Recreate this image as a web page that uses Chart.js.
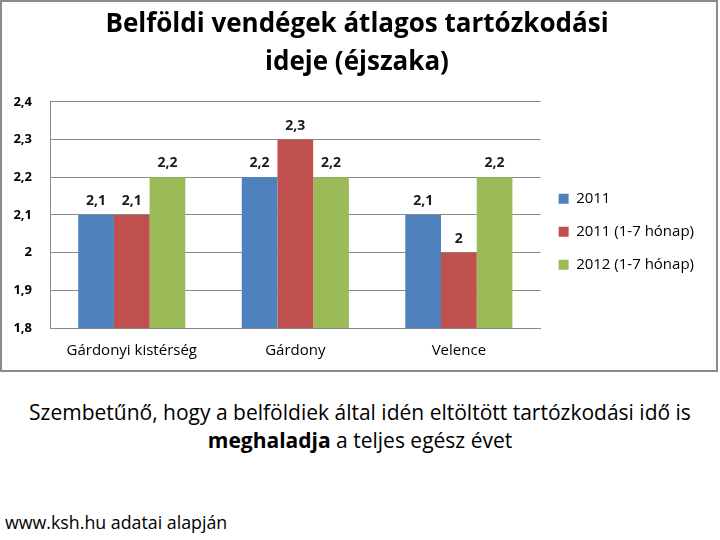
<!DOCTYPE html>
<html lang="hu">
<head>
<meta charset="utf-8">
<title>Belföldi vendégek átlagos tartózkodási ideje</title>
<script src="https://cdn.jsdelivr.net/npm/chart.js@4.4.1/dist/chart.umd.min.js"></script>
<style>
    html, body { margin: 0; padding: 0; background: #fff; }
    body { width: 720px; height: 540px; position: relative; overflow: hidden; font-family: 'Open Sans', sans-serif; color: #000; }
    #chart-box {
        position: absolute; left: 0; top: 0; width: 718px; height: 372px;
        box-sizing: border-box; border: 2px solid #8c8c8c; background: #fff;
    }
    #chart-box canvas { display: block; }
    #caption {
        position: absolute; left: 0; top: 398px; width: 720px;
        text-align: center; font-size: 21px; line-height: 28px;
    }
    #source {
        position: absolute; left: 5px; top: 509px; font-size: 17.8px; line-height: 26px;
    }
</style>
</head>
<body>
<div id="chart-box"><canvas id="stay-chart" width="714" height="368"></canvas></div>
<div id="caption">Szembetűnő, hogy a belföldiek által idén eltöltött tartózkodási idő is<br><b>meghaladja</b> a teljes egész évet</div>
<div id="source">www.ksh.hu adatai alapján</div>

<script>
// Chart data (nights)
const categories = ['Gárdonyi kistérség', 'Gárdony', 'Velence'];
const seriesNames = ['2011', '2011 (1-7 hónap)', '2012 (1-7 hónap)'];
const values2011 = [2.1, 2.2, 2.1];
const values2011Partial = [2.1, 2.3, 2.0];
const values2012Partial = [2.2, 2.2, 2.2];
const yTicks = [1.8, 1.9, 2.0, 2.1, 2.2, 2.3, 2.4];

const COLORS = ['#4F81BD', '#C0504D', '#9BBB59'];
const FONT = "'Open Sans', sans-serif";

const fmt = v => String(Number(v.toFixed(1))).replace('.', ',');

// values above each bar
const barLabels = {
    id: 'barLabels',
    afterDatasetsDraw(chart) {
        const ctx = chart.ctx;
        ctx.save();
        ctx.font = 'bold 14px ' + FONT;
        ctx.fillStyle = '#1a1a1a';
        ctx.textAlign = 'center';
        ctx.textBaseline = 'bottom';
        chart.data.datasets.forEach((ds, i) => {
            chart.getDatasetMeta(i).data.forEach((bar, j) => {
                ctx.fillText(fmt(ds.data[j]), bar.x, bar.y - 7);
            });
        });
        ctx.restore();
    }
};

new Chart(document.getElementById('stay-chart'), {
    type: 'bar',
    data: {
        labels: categories,
        datasets: [values2011, values2011Partial, values2012Partial].map((data, i) => ({
            label: seriesNames[i],
            data,
            backgroundColor: COLORS[i],
            borderWidth: 0,
            barPercentage: 1,
            categoryPercentage: 0.655,
        })),
    },
    options: {
        responsive: false,
        animation: false,
        layout: { padding: { left: 8, right: 12, top: 0, bottom: -4 } },
        plugins: {
            title: {
                display: true,
                text: ['Belföldi vendégek átlagos tartózkodási', 'ideje (éjszaka)'],
                color: '#000',
                font: { family: FONT, size: 26, weight: 'bold', lineHeight: 1.46 },
                padding: { top: 4, bottom: 20 },
            },
            legend: {
                position: 'right',
                // empty title only pushes the items down to the reference position
                title: { display: true, text: ' ', padding: { top: 0, bottom: 73 } },
                labels: {
                    color: '#000',
                    font: { family: FONT, size: 15 },
                    boxWidth: 10,
                    boxHeight: 10,
                    padding: 18,
                },
            },
            tooltip: { enabled: false },
        },
        scales: {
            x: {
                grid: { display: false, drawTicks: false },
                border: { color: '#8a8a8a' },
                ticks: { color: '#000', font: { family: FONT, size: 15 }, padding: 14 },
            },
            y: {
                min: 1.8,
                max: 2.4,
                afterBuildTicks: axis => { axis.ticks = yTicks.map(value => ({ value })); },
                afterFit: axis => { axis.width = 40; },
                grid: { color: '#8a8a8a', drawTicks: false },
                border: { color: '#8a8a8a' },
                ticks: {
                    color: '#000',
                    font: { family: FONT, size: 13, weight: 'bold' },
                    padding: 18,
                    callback: v => fmt(v),
                },
            },
        },
    },
    plugins: [barLabels],
});
</script>
</body>
</html>
